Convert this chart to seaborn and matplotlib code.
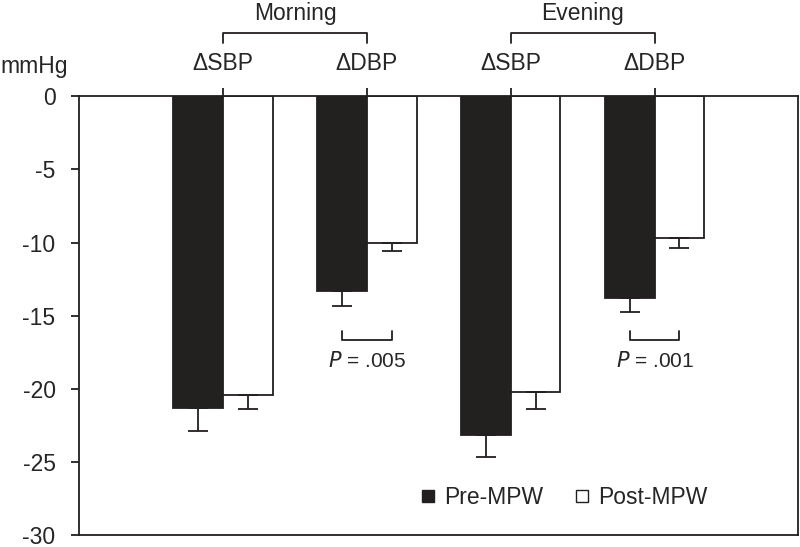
import pandas as pd
import matplotlib.pyplot as plt
import seaborn as sns
from matplotlib.lines import Line2D

# Data (mmHg change)
measures = ['Morning ΔSBP', 'Morning ΔDBP', 'Evening ΔSBP', 'Evening ΔDBP']
tick_labels = ['ΔSBP', 'ΔDBP', 'ΔSBP', 'ΔDBP']
pre_mpw = [-21.35, -13.3, -23.15, -13.8]
post_mpw = [-20.4, -10.0, -20.2, -9.7]
pre_err = [1.55, 1.05, 1.5, 0.95]
post_err = [1.0, 0.6, 1.2, 0.65]
periods = ['Morning', 'Evening']
p_values = ['.005', '.001']
p_groups = [1, 3]

dark = '#231f20'

sns.set_style('white')
plt.rcParams['font.family'] = ['Liberation Sans', 'DejaVu Sans']
plt.rcParams['axes.unicode_minus'] = False

df = pd.DataFrame({
    'measure': measures * 2,
    'value': pre_mpw + post_mpw,
    'group': ['Pre-MPW'] * 4 + ['Post-MPW'] * 4,
})

fig = plt.figure(figsize=(8, 5.47), dpi=100)
ax = fig.add_axes([0.099, 0.022, 0.899, 0.802])

width = 0.69
sns.barplot(data=df, x='measure', y='value', hue='group', order=measures,
            hue_order=['Pre-MPW', 'Post-MPW'], palette=[dark, 'white'],
            width=width, edgecolor=dark, linewidth=1.3, errorbar=None,
            legend=False, ax=ax)

# One-sided (downward) error bars
half = width / 4
xs = range(len(measures))
ax.errorbar([x - half for x in xs], pre_mpw, yerr=[pre_err, [0] * 4], fmt='none',
            ecolor=dark, elinewidth=1.3, capsize=7, capthick=1.3)
ax.errorbar([x + half for x in xs], post_mpw, yerr=[post_err, [0] * 4], fmt='none',
            ecolor=dark, elinewidth=1.3, capsize=7, capthick=1.3)

ax.set_ylim(-30, 0)
ax.set_xlim(-1, 4)
ax.set_yticks(range(0, -31, -5))
ax.set_yticklabels([str(v) for v in range(0, -31, -5)])
ax.xaxis.tick_top()
ax.set_xticks(list(xs))
ax.set_xticklabels(tick_labels)
ax.set_xlabel('')
ax.set_ylabel('')
ax.tick_params(axis='y', direction='out', length=6, width=1.3, color=dark,
               labelsize=16.5, pad=11, left=True)
ax.tick_params(axis='x', direction='out', length=6, width=1.3, color=dark,
               labelsize=16.5, pad=9, top=True, bottom=False)
for s in ax.spines.values():
    s.set_color(dark)
    s.set_linewidth(1.3)

fig.text(0.0, 1 - 67 / 547, 'mmHg', fontsize=16.5, va='center', ha='left')

# Morning / Evening brackets above the axis
for i, name in enumerate(periods):
    x0, x1 = 2 * i, 2 * i + 1
    ax.plot([x0, x0, x1, x1], [3.65, 4.35, 4.35, 3.65], color=dark, lw=1.3,
            clip_on=False)
    ax.text((x0 + x1) / 2, 5.65, name, ha='center', va='center', fontsize=16.5)

# P-value brackets
for g, p in zip(p_groups, p_values):
    ax.plot([g - half, g - half, g + half, g + half], [-16.05, -16.7, -16.7, -16.05],
            color=dark, lw=1.3)
    ax.text(g, -18.1, r'$\mathit{P}$' + ' = ' + p, ha='center', va='center', fontsize=15)

handles = [
    Line2D([], [], marker='s', ls='none', markersize=9, markerfacecolor=dark,
           markeredgecolor=dark, markeredgewidth=1),
    Line2D([], [], marker='s', ls='none', markersize=8, markerfacecolor='white',
           markeredgecolor=dark, markeredgewidth=1),
]
ax.legend(handles, ['Pre-MPW', 'Post-MPW'], ncol=2, frameon=False, fontsize=16.5,
          loc='center left', bbox_to_anchor=(0.46, 0.085), handlelength=0.8,
          handletextpad=0.3, columnspacing=1.3, borderaxespad=0)

fig.savefig('out.png', dpi=100)
